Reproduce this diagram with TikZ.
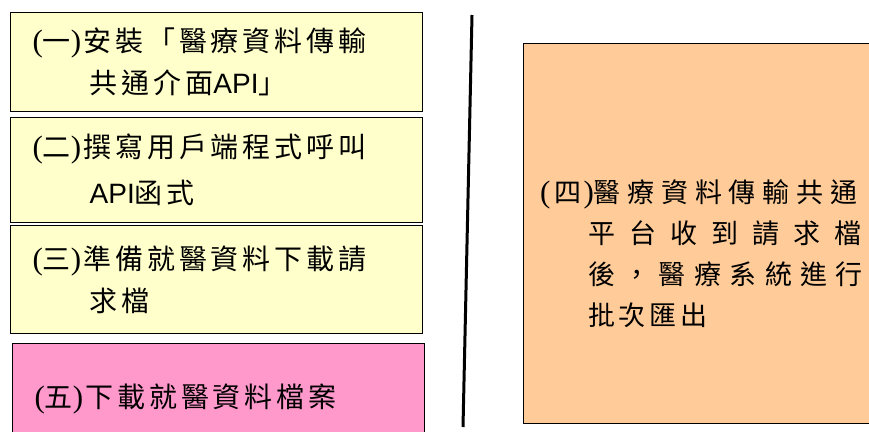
\documentclass[tikz,border=0pt]{standalone}
\usepackage{fontspec}
\setmainfont{Liberation Serif}
\newfontfamily\cjk[LetterSpace=14]{Noto Sans CJK TC}
\newfontfamily\arial{Liberation Sans}
\newcommand{\api}{{\arial API}}
\newcommand{\paren}[1]{{\rmfamily\fontsize{31}{42}\selectfont#1}}
\newcommand{\itemno}[1]{\paren{(}#1\paren{)}\hspace{2pt}}
\definecolor{paleyellow}{HTML}{FFFFCC}
\definecolor{palepink}{HTML}{FF99CC}
\definecolor{palepeach}{HTML}{FFCC99}

\begin{document}
\begin{tikzpicture}[x=1pt,y=-1pt,
    stepbox/.style={draw=black,line width=1.3pt,rectangle,anchor=north west,
        inner xsep=22pt,inner ysep=0pt,text width=368pt,align=left,
        font=\cjk\fontsize{28}{42}\selectfont},
    linetext/.style={anchor=north west,inner sep=0pt,align=left,
        font=\cjk\fontsize{27}{41}\selectfont}]
    \clip (0,0) rectangle (869,431);
    % left column: steps one to three and five
    \node[stepbox,fill=paleyellow,minimum height=99pt] (install) at (10,12)
        {\itemno{一}安裝「醫療資料傳輸\\\hspace*{57pt}共通介面\api」};
    \node[stepbox,fill=paleyellow,minimum height=105pt,
        font=\cjk\fontsize{28}{46}\selectfont] (client) at (10,117)
        {\itemno{二}撰寫用戶端程式呼叫\\\hspace*{57pt}\api 函式};
    \node[stepbox,fill=paleyellow,minimum height=108pt] (request) at (10,225)
        {\itemno{三}準備就醫資料下載請\\\hspace*{57pt}求檔};
    \node[stepbox,fill=palepink,minimum height=110pt] (download) at (12,343)
        {\itemno{五}下載就醫資料檔案};
    % divider
    \coordinate (divtop) at (472,15);
    \coordinate (divbot) at (463,427);
    \draw[line width=3pt] (divtop) -- (divbot);
    % right column: step four
    \node[draw=black,line width=1.3pt,fill=palepeach,anchor=north west,
        minimum width=420pt,minimum height=380pt] (platform) at (523,43) {};
    \node[linetext] (platformtext) at (540,179)
        {{\addfontfeature{LetterSpace=25}\paren{(}\hspace{4pt}四\hspace{2pt}\paren{)}醫療資料傳輸共通}\\
         \hspace*{48pt}{\addfontfeature{LetterSpace=52}平台收到請求檔}\\
         \hspace*{48pt}{\addfontfeature{LetterSpace=31}後，醫療系統進行}\\
         \hspace*{48pt}批次匯出};
\end{tikzpicture}
\end{document}
